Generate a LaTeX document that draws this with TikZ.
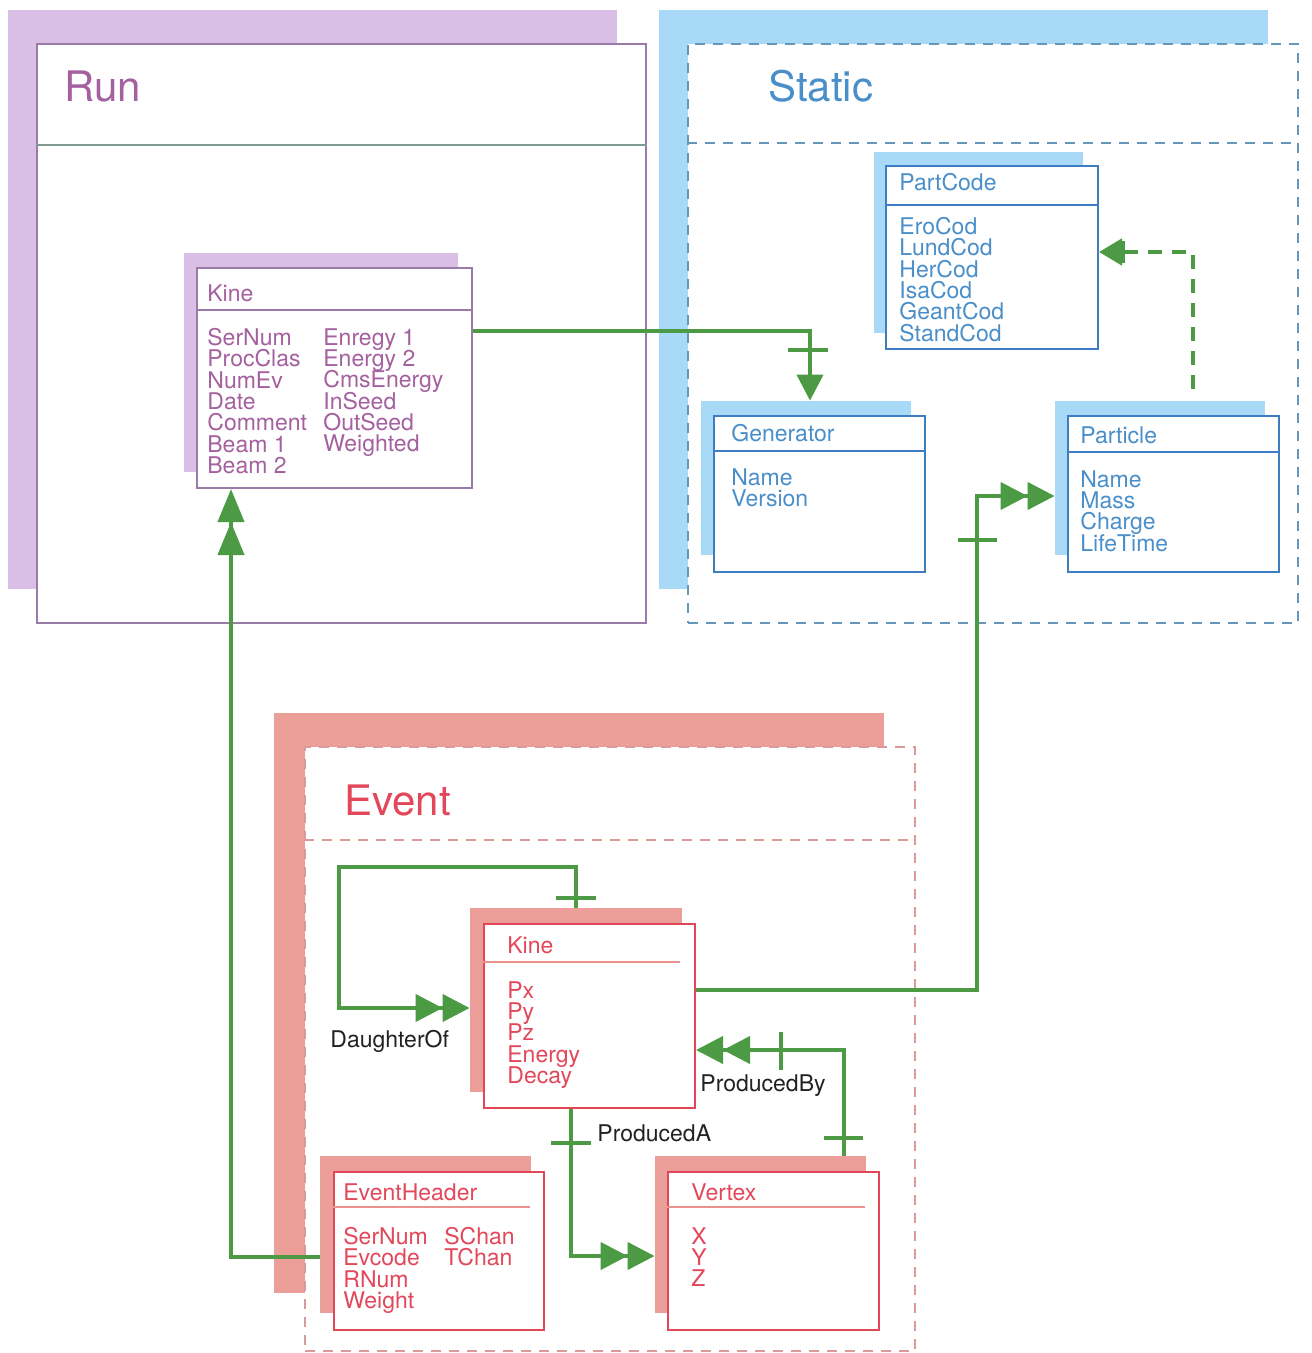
\documentclass[tikz,border=0pt]{standalone}
\usepackage{fontspec}
\setmainfont{TeX Gyre Heros}
\usetikzlibrary{arrows.meta, fit}

\definecolor{runshade}{HTML}{D9BEE5}
\definecolor{runline}{HTML}{9A7BA8}
\definecolor{runtext}{HTML}{A5609F}
\definecolor{rundiv}{HTML}{7F9A92}
\definecolor{statshade}{HTML}{A8D9F6}
\definecolor{statline}{HTML}{3D7EC2}
\definecolor{stattext}{HTML}{4A8FC9}
\definecolor{statdash}{HTML}{6597BA}
\definecolor{evshade}{HTML}{EC9E98}
\definecolor{evline}{HTML}{E24757}
\definecolor{evtext}{HTML}{E3475A}
\definecolor{evdash}{HTML}{DB9A9A}
\definecolor{evdiv}{HTML}{E9928E}
\definecolor{linkgreen}{HTML}{4C9A44}
\definecolor{labeltext}{HTML}{222222}

\newcommand\fieldfont{\fontsize{11.5}{10.65}\selectfont\lineskiplimit=-20pt}

\begin{document}
\begin{tikzpicture}[
        x=0.5pt, y=-0.5pt,
        backing/.style={fill=#1, draw=none, inner sep=0pt},
        modframe/.style={draw=#1, fill=white, inner sep=0pt, line width=0.9pt},
        dashframe/.style={draw=#1, fill=white, inner sep=0pt, line width=0.8pt,
            dash pattern=on 5pt off 4pt},
        cls/.style={draw=#1, fill=white, inner sep=0pt, line width=1pt},
        modtitle/.style={anchor=base west, inner sep=0pt, text=#1,
            font=\fontsize{21}{25}\selectfont},
        head/.style={anchor=base west, inner sep=0pt, text=#1, font=\fieldfont},
        fields/.style={anchor=north west, align=left, inner sep=0pt, text=#1,
            font=\fieldfont},
        rel/.style={anchor=base west, inner sep=0pt, text=labeltext, font=\fieldfont},
        link/.style={draw=linkgreen, line width=2pt},
        bar/.style={draw=linkgreen, line width=2pt},
        one/.style={-{Triangle[length=13pt, width=13pt]}},
        two/.style={-{Triangle[length=13.5pt, width=13.5pt, sep=0pt]
            Triangle[length=13.5pt, width=13.5pt]}},
        twolong/.style={-{Triangle[length=16.5pt, width=13pt, sep=0pt]
            Triangle[length=16.5pt, width=13pt]}}
    ]

    \fill[white] (0,0) rectangle (1311,1353);
    \useasboundingbox (0,0) rectangle (1311,1353);

    % Run module
    \node[backing=runshade, fit={(8,10) (617,589)}] (runs) {};
    \node[modframe=runline, fit={(37,44) (646,623)}] (run) {};
    \draw[rundiv, line width=0.9pt] (run.west |- 0,145) -- (run.east |- 0,145);
    \node[modtitle=runtext] (runtitle) at (64,102) {Run};

    \node[backing=runshade, fit={(184,253) (458,472)}] (rkines) {};
    \node[cls=runline, fit={(197,268) (472,488)}] (rkine) {};
    \draw[runline, line width=0.9pt] (rkine.west |- 0,310) -- (rkine.east |- 0,310);
    \node[head=runtext] (rkinehead) at (207,302) {Kine};
    \node[fields=runtext] (rkinea) at (207,328)
        {SerNum\\ProcClas\\NumEv\\Date\\Comment\\Beam 1\\Beam 2};
    \node[fields=runtext] (rkineb) at (323,328)
        {Enregy 1\\Energy 2\\CmsEnergy\\InSeed\\OutSeed\\Weighted};

    % Static module
    \node[backing=statshade, fit={(659,10) (1268,589)}] (stats) {};
    \node[dashframe=statdash, fit={(688,44) (1298,623)}] (stat) {};
    \draw[statdash, line width=0.8pt, dash pattern=on 5pt off 4pt]
        (stat.west |- 0,143) -- (stat.east |- 0,143);
    \node[modtitle=stattext] (stattitle) at (768,102) {Static};

    \node[backing=statshade, fit={(874,152) (1083,333)}] (pcodes) {};
    \node[cls=statline, fit={(886,166) (1098,349)}] (pcode) {};
    \draw[statline, line width=0.9pt] (pcode.west |- 0,205) -- (pcode.east |- 0,205);
    \node[head=stattext] (pcodehead) at (899,191) {PartCode};
    \node[fields=stattext] (pcodef) at (899,217)
        {EroCod\\LundCod\\HerCod\\IsaCod\\GeantCod\\StandCod};

    \node[backing=statshade, fit={(701,401) (911,555)}] (gens) {};
    \node[cls=statline, fit={(714,416) (925,572)}] (gen) {};
    \draw[statline, line width=0.9pt] (gen.west |- 0,451) -- (gen.east |- 0,451);
    \node[head=stattext] (genhead) at (731,441) {Generator};
    \node[fields=stattext] (genf) at (731,468) {Name\\Version};

    \node[backing=statshade, fit={(1055,401) (1265,555)}] (parts) {};
    \node[cls=statline, fit={(1068,416) (1279,572)}] (part) {};
    \draw[statline, line width=0.9pt] (part.west |- 0,452) -- (part.east |- 0,452);
    \node[head=stattext] (parthead) at (1080,443) {Particle};
    \node[fields=stattext] (partf) at (1080,470) {Name\\Mass\\Charge\\LifeTime};

    % Event module
    \node[backing=evshade, fit={(274,713) (884,1293)}] (evs) {};
    \node[dashframe=evdash, fit={(305,747) (915,1351)}] (ev) {};
    \draw[evdash, line width=0.8pt, dash pattern=on 5pt off 4pt]
        (ev.west |- 0,840) -- (ev.east |- 0,840);
    \node[modtitle=evtext] (evtitle) at (344,815) {Event};

    \node[backing=evshade, fit={(470,908) (682,1092)}] (ekines) {};
    \node[cls=evline, fit={(484,924) (695,1108)}] (ekine) {};
    \draw[evdiv, line width=0.9pt] (ekine.west |- 0,962) -- (680,962);
    \node[head=evtext] (ekinehead) at (507,953) {Kine};
    \node[fields=evtext] (ekinef) at (507,981) {Px\\Py\\Pz\\Energy\\Decay};

    \node[backing=evshade, fit={(320,1156) (531,1313)}] (ehs) {};
    \node[cls=evline, fit={(334,1172) (544,1330)}] (eh) {};
    \draw[evdiv, line width=0.9pt] (eh.west |- 0,1207) -- (530,1207);
    \node[head=evtext] (ehhead) at (343,1200) {EventHeader};
    \node[fields=evtext] (eha) at (343,1227) {SerNum\\Evcode\\RNum\\Weight};
    \node[fields=evtext] (ehb) at (444,1227) {SChan\\TChan};

    \node[backing=evshade, fit={(655,1156) (866,1313)}] (vertexs) {};
    \node[cls=evline, fit={(668,1172) (879,1330)}] (vertex) {};
    \draw[evdiv, line width=0.9pt] (vertex.west |- 0,1207) -- (865,1207);
    \node[head=evtext] (vertexhead) at (691,1200) {Vertex};
    \node[fields=evtext] (vertexf) at (691,1227) {X\\Y\\Z};

    % Links
    \draw[link, one] (rkine.east |- 0,331) -| (gens.north -| 810,0);
    \draw[bar] (788,350) -- (828,350);

    \draw[link, twolong] (ehs.west |- 0,1257) -| (rkine.south -| 231,0);

    \draw[link, two] (ekine.east |- 0,990) -| (977,496) -- (parts.west |- 0,496);
    \draw[bar] (958,540) -- (997,540);

    \draw[link, line width=2.4pt, dash pattern=on 7pt off 5pt, shorten <=6pt,
        -{Triangle[length=11.5pt, width=13pt]}]
        (parts.north -| 1193,0) |- (pcode.east |- 0,252);
    \draw[bar] (1123,241) -- (1123,263);

    \draw[link, two] (ekines.north -| 576,0) |- (339,867) |- (ekines.west |- 0,1008);
    \draw[bar] (556,898) -- (596,898);
    \node[rel] (daughter) at (330,1047) {DaughterOf};

    \draw[link, two] (vertexs.north -| 844,0) |- (ekine.east |- 0,1050);
    \draw[bar] (824,1138) -- (863,1138);
    \draw[bar] (781,1032) -- (781,1070);
    \node[rel] (prodby) at (700,1091) {ProducedBy};

    \draw[link, two] (ekine.south -| 571,0) |- (vertexs.west |- 0,1256);
    \draw[bar] (551,1143) -- (591,1143);
    \node[rel] (proda) at (597,1141) {ProducedA};

\end{tikzpicture}
\end{document}
